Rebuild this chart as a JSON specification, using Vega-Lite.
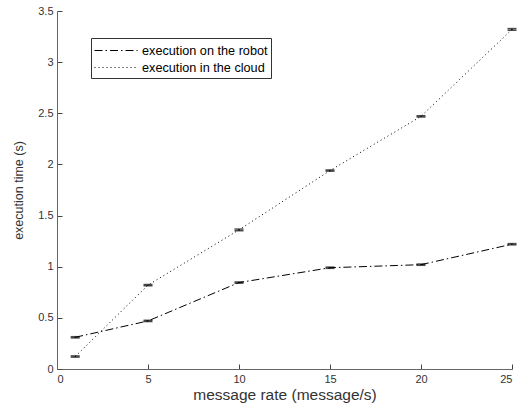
{
  "$schema": "https://vega.github.io/schema/vega-lite/v6.json",
  "width": 455,
  "height": 358,
  "autosize": {"type": "none"},
  "padding": {"left": 57, "top": 11, "right": 9, "bottom": 49},
  "config": {
    "view": {"stroke": null},
    "font": "Liberation Sans",
    "axis": {
      "grid": false,
      "domainColor": "#666666",
      "tickColor": "#444444",
      "tickSize": -5,
      "labelColor": "#333333",
      "titleColor": "#333333",
      "labelFontSize": 11,
      "titleFontSize": 12.5,
      "titleFontWeight": "normal",
      "labelFont": "Liberation Sans",
      "titleFont": "Liberation Sans"
    }
  },
  "data": {
    "values": [
      {"rate": 1, "series": "execution on the robot", "time": 0.31, "lo": 0.304, "hi": 0.316},
      {"rate": 5, "series": "execution on the robot", "time": 0.47, "lo": 0.464, "hi": 0.476},
      {"rate": 10, "series": "execution on the robot", "time": 0.845, "lo": 0.839, "hi": 0.851},
      {"rate": 15, "series": "execution on the robot", "time": 0.99, "lo": 0.984, "hi": 0.996},
      {"rate": 20, "series": "execution on the robot", "time": 1.02, "lo": 1.014, "hi": 1.026},
      {"rate": 25, "series": "execution on the robot", "time": 1.22, "lo": 1.214, "hi": 1.226},
      {"rate": 1, "series": "execution in the cloud", "time": 0.122, "lo": 0.116, "hi": 0.128},
      {"rate": 5, "series": "execution in the cloud", "time": 0.82, "lo": 0.814, "hi": 0.826},
      {"rate": 10, "series": "execution in the cloud", "time": 1.36, "lo": 1.352, "hi": 1.368},
      {"rate": 15, "series": "execution in the cloud", "time": 1.94, "lo": 1.934, "hi": 1.946},
      {"rate": 20, "series": "execution in the cloud", "time": 2.47, "lo": 2.464, "hi": 2.476},
      {"rate": 25, "series": "execution in the cloud", "time": 3.32, "lo": 3.312, "hi": 3.328}
    ]
  },
  "encoding": {
    "x": {
      "field": "rate",
      "type": "quantitative",
      "scale": {"domain": [0, 25], "nice": false, "zero": false},
      "axis": {"title": "message rate (message/s)", "titleFontSize": 15.5, "values": [0, 5, 10, 15, 20, 25], "labelPadding": 9, "titlePadding": 3}
    },
    "y": {
      "field": "time",
      "type": "quantitative",
      "scale": {"domain": [0, 3.5], "nice": false},
      "axis": {"title": "execution time (s)", "format": "~g", "values": [0, 0.5, 1, 1.5, 2, 2.5, 3, 3.5], "labelPadding": 9, "titlePadding": 12}
    }
  },
  "layer": [
    {
      "mark": {"type": "line", "color": "black", "strokeWidth": 1},
      "encoding": {
        "detail": {"field": "series", "type": "nominal"},
        "strokeDash": {
          "field": "series",
          "type": "nominal",
          "scale": {"domain": ["execution on the robot", "execution in the cloud"], "range": [[8, 3, 1.5, 3], [1, 3]]},
          "legend": {
            "title": null,
            "orient": "none",
            "legendX": 34,
            "legendY": 27,
            "symbolType": "M-1,0H3.8",
            "symbolSize": 324,
            "symbolStrokeColor": "black",
            "symbolStrokeWidth": 1,
            "labelFontSize": 12.7,
            "labelColor": "#000000",
            "labelFont": "Liberation Sans",
            "strokeColor": "#333333",
            "fillColor": "white",
            "padding": 3,
            "labelOffset": 29,
            "rowPadding": 0
          }
        }
      }
    },
    {
      "mark": {"type": "rule", "color": "black", "strokeWidth": 1},
      "encoding": {"y": {"field": "lo", "type": "quantitative"}, "y2": {"field": "hi"}}
    },
    {
      "mark": {"type": "tick", "orient": "horizontal", "color": "black", "size": 9, "thickness": 1.5},
      "encoding": {"y": {"field": "lo", "type": "quantitative"}}
    },
    {
      "mark": {"type": "tick", "orient": "horizontal", "color": "black", "size": 9, "thickness": 1.5},
      "encoding": {"y": {"field": "hi", "type": "quantitative"}}
    }
  ]
}
